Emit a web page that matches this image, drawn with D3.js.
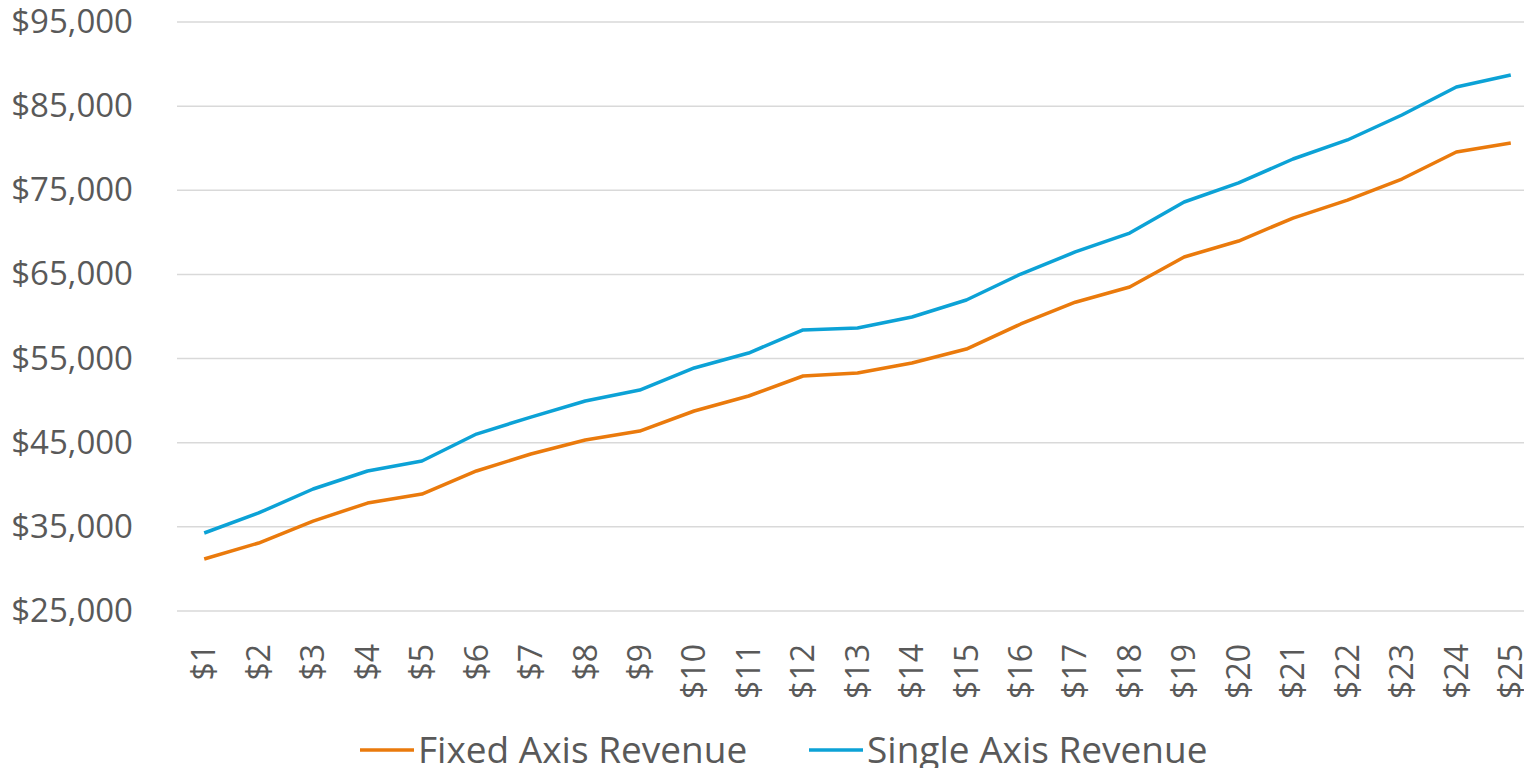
<!DOCTYPE html>
<html><head><meta charset="utf-8">
<script src="https://cdn.jsdelivr.net/npm/d3@7"></script>
<style>body{margin:0;background:#fff;} svg{display:block;}</style>
</head><body>
<svg id="chart" width="1524" height="768"></svg>
<script>
const categories = ["$1","$2","$3","$4","$5","$6","$7","$8","$9","$10","$11","$12","$13","$14","$15","$16","$17","$18","$19","$20","$21","$22","$23","$24","$25"];
const fixedAxis = [31180,33080,35690,37830,38900,41640,43660,45320,46390,48770,50550,52930,53280,54470,56130,59110,61700,63500,67070,68970,71700,73840,76340,79550,80620];
const singleAxis = [34270,36650,39500,41640,42830,46030,48050,49960,51260,53880,55660,58400,58630,59940,61960,65050,67670,69920,73610,75870,78720,80980,83950,87280,88700];
const yTicks = [25000,35000,45000,55000,65000,75000,85000,95000];
const seriesNames = ["Fixed Axis Revenue","Single Axis Revenue"];
const colors = ["#EA7A0C","#0CA2D6"];

const svg = d3.select("#chart");
const font = "'Open Sans', sans-serif";
const x = d3.scaleBand().domain(categories).range([177, 1538]);
const y = d3.scaleLinear().domain([25000, 95000]).range([611, 22]);
const fmt = v => "$" + d3.format(",")(v);

// gridlines
svg.append("g").selectAll("line").data(yTicks).join("line")
  .attr("x1", 177).attr("x2", 1538)
  .attr("y1", d => y(d)).attr("y2", d => y(d))
  .attr("stroke", "#d9d9d9").attr("stroke-width", 1.5);

// y axis
const yAxis = svg.append("g").attr("transform", "translate(133,0)")
  .call(d3.axisLeft(y).tickValues(yTicks).tickFormat(fmt).tickSize(0).tickPadding(0));
yAxis.select(".domain").remove();
yAxis.selectAll("text").attr("font-family", font).attr("font-size", 33).attr("fill", "#595959");

// x axis
const xAxis = svg.append("g").attr("transform", "translate(0,644)")
  .call(d3.axisBottom(x).tickSize(0).tickPadding(0));
xAxis.select(".domain").remove();
xAxis.selectAll("text")
  .attr("font-family", font).attr("font-size", 32).attr("fill", "#595959")
  .attr("transform", "rotate(-90)")
  .attr("text-anchor", "end")
  .attr("x", 0).attr("y", 0).attr("dy", "0.35em");

// lines
const line = d3.line().x((d, i) => x(categories[i]) + x.bandwidth() / 2).y(d => y(d));
[fixedAxis, singleAxis].forEach((s, i) => {
  svg.append("path").datum(s).attr("d", line)
    .attr("fill", "none").attr("stroke", colors[i]).attr("stroke-width", 3.5)
    .attr("stroke-linejoin", "round");
});

// legend
const legendX = [360, 809];
seriesNames.forEach((n, i) => {
  const g = svg.append("g").attr("transform", `translate(${legendX[i]},750)`);
  g.append("line").attr("x1", 0).attr("x2", 54).attr("y1", 0).attr("y2", 0)
    .attr("stroke", colors[i]).attr("stroke-width", 3.5);
  g.append("text").attr("x", 58).attr("y", 0).attr("dy", "0.35em")
    .attr("font-family", font).attr("font-size", 37).attr("fill", "#595959").text(n);
});
</script>
</body></html>
